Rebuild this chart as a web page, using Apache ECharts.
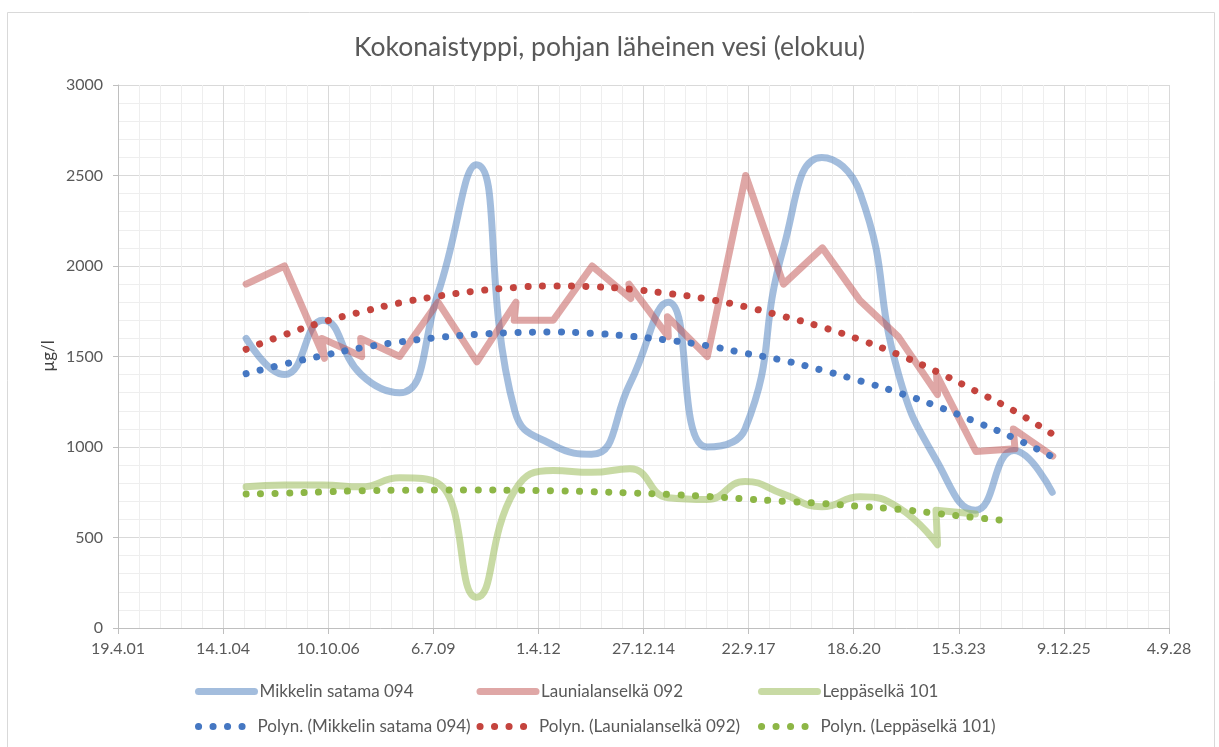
<!DOCTYPE html>
<html>
<head>
<meta charset="utf-8">
<script src="https://cdn.jsdelivr.net/npm/echarts@6/dist/echarts.min.js"></script>
<style>
html,body{margin:0;padding:0;background:#fff;}
#chart{width:1219px;height:747px;}
</style>
</head>
<body>
<div id="chart"></div>
<script>
// ---------- DATA ----------
const titleText = 'Kokonaistyppi, pohjan läheinen vesi (elokuu)';
const yAxisName = 'µg/l';
const xTickLabels = ['19.4.01','14.1.04','10.10.06','6.7.09','1.4.12','27.12.14','22.9.17','18.6.20','15.3.23','9.12.25','4.9.28'];

const mikkelinName = 'Mikkelin satama 094';
const mikkelinDates = ['2004-08-20','2005-08-20','2006-08-20','2007-08-20','2008-08-20','2009-08-20','2010-08-20','2011-08-20','2012-08-20','2013-08-20','2014-08-20','2015-08-20','2016-08-20','2017-08-20','2018-08-20','2019-08-20','2020-08-20','2021-08-20','2022-08-20','2023-08-20','2024-08-20','2025-08-20'];
const mikkelinValues = [1600,1400,1700,1400,1300,1850,2560,1200,1010,960,1350,1800,1000,1100,2100,2600,2400,1400,920,650,980,750];

const launiaName = 'Launialanselkä 092';
const launiaDates = ['2004-08-20','2005-08-20','2006-09-05','2006-08-10','2007-08-25','2007-08-15','2008-08-20','2009-08-20','2010-08-25','2011-09-01','2011-08-15','2012-08-20','2013-08-25','2014-08-28','2014-08-10','2015-08-20','2015-08-12','2016-08-25','2017-08-25','2018-08-20','2019-08-25','2020-08-15','2021-08-15','2022-08-25','2022-08-15','2023-08-25','2024-08-30','2024-08-15','2025-08-25'];
const launiaValues = [1900,2000,1490,1600,1500,1600,1500,1800,1470,1800,1700,1700,2000,1820,1900,1610,1720,1500,2500,1900,2100,1810,1610,1290,1400,975,990,1100,950];

const leppaName = 'Leppäselkä 101';
const leppaDates = ['2004-08-20','2005-08-20','2006-08-20','2007-08-20','2008-08-20','2009-08-20','2010-08-20','2011-08-20','2012-08-20','2013-08-20','2014-08-20','2015-08-20','2016-08-20','2017-08-20','2018-08-20','2019-08-20','2020-08-20','2021-08-20','2022-08-25','2022-08-10','2023-08-20'];
const leppaValues = [780,790,790,780,830,800,170,760,870,860,880,720,710,810,740,670,725,665,460,650,630];

// trend lines (Polyn.)
const trendDates = ['2004-08-20','2005-08-20','2006-08-20','2007-08-20','2008-08-20','2009-08-20','2010-08-20','2011-08-20','2012-08-20','2013-08-20','2014-08-20','2015-08-20','2016-08-20','2017-08-20','2018-08-20','2019-08-20','2020-08-20','2021-08-20','2022-08-20','2023-08-20','2024-08-20','2025-08-20'];
const trendMikkelin = [1405,1458,1505,1548,1580,1605,1622,1632,1635,1628,1612,1590,1560,1518,1478,1425,1365,1300,1225,1140,1050,946];
const trendLaunia = [1540,1620,1690,1746,1796,1833,1862,1881,1890,1886,1872,1848,1818,1775,1722,1663,1592,1510,1415,1310,1200,1072];
const trendLeppaDates = ['2004-08-20','2005-08-20','2006-08-20','2007-08-20','2008-08-20','2009-08-20','2010-08-20','2011-08-20','2012-08-20','2013-08-20','2014-08-20','2015-08-20','2016-08-20','2017-08-20','2018-08-20','2019-08-20','2020-08-20','2021-08-20','2022-08-20','2023-08-20','2024-06-15'];
const trendLeppa = [740,745,752,758,761,762,762,761,758,753,746,738,727,713,700,688,672,656,633,610,593];

// ---------- HELPERS ----------
const EPOCH = Date.UTC(1899, 11, 30);
function serial(s) {
  const p = s.split('-').map(Number);
  return Math.round((Date.UTC(p[0], p[1] - 1, p[2]) - EPOCH) / 86400000);
}
function pairs(dates, vals) { return dates.map((d, i) => [serial(d), vals[i]]); }

const X_MIN = 37000, X_MAX = 47000, X_INT = 1000;
const FONT = 'Lato, "Open Sans", sans-serif';

const C_BLUE = 'rgba(79,129,189,0.52)';
const C_RED = 'rgba(192,80,77,0.5)';
const C_GREEN = 'rgba(155,187,89,0.55)';
const D_BLUE = '#4577c2';
const D_RED = '#c4443e';
const D_GREEN = '#8db646';

function solid(name, data, color, smooth) {
  return { name, type: 'line', data, smooth: smooth ? 0.5 : false, symbol: 'none', showSymbol: false,
    lineStyle: { color, width: 7, cap: 'round', join: 'round' }, itemStyle: { color }, z: 2 };
}
function dotted(name, data, color) {
  return { name, type: 'line', data, smooth: 0.5, symbol: 'none', showSymbol: false,
    lineStyle: { color, width: 7, type: [0.1, 14.4], cap: 'round' }, itemStyle: { color }, z: 3 };
}

const names = [mikkelinName, launiaName, leppaName,
  'Polyn. (' + mikkelinName + ')', 'Polyn. (' + launiaName + ')', 'Polyn. (' + leppaName + ')'];
const legendX = [195, 476.5, 758];
const legendY = [683, 718];

const legends = names.map((n, i) => ({
  data: [n], left: legendX[i % 3], top: legendY[Math.floor(i / 3)], orient: 'horizontal', padding: 0,
  itemWidth: i < 3 ? 56 : 46, itemHeight: 14, itemGap: 0, selectedMode: false,
  textStyle: { fontFamily: FONT, fontSize: 17, color: '#595959', padding: [0, 0, 0, i < 3 ? 0 : 8] },
  itemStyle: { opacity: 0, borderWidth: 0 },
  lineStyle: { width: 7 }
}));

const chart = echarts.init(document.getElementById('chart'), null, { renderer: 'canvas' });
chart.setOption({
  animation: false,
  backgroundColor: '#ffffff',
  title: { text: titleText, left: 'center', top: 29, textStyle: { fontFamily: FONT, fontSize: 26.5, fontWeight: 'normal', color: '#595959' } },
  graphic: [
    { type: 'rect', shape: { x: 7.5, y: 12.5, width: 1207, height: 760 }, style: { fill: 'none', stroke: '#d9d9d9', lineWidth: 1 }, silent: true, z: -10 },
    { type: 'text', x: 49, y: 356, rotation: Math.PI / 2, silent: true,
      style: { text: yAxisName, fontFamily: FONT, fontSize: 17, fill: '#404040', align: 'center', verticalAlign: 'middle' } }
  ],
  legend: legends,
  grid: { left: 118, right: 50, top: 85, bottom: 119, containLabel: false },
  xAxis: {
    type: 'value', min: X_MIN, max: X_MAX, interval: X_INT,
    axisLine: { show: true, onZero: false, lineStyle: { color: '#bfbfbf', width: 1 } },
    axisTick: { show: true, length: 6, lineStyle: { color: '#bfbfbf' } },
    axisLabel: { margin: 13, fontFamily: FONT, fontSize: 16, color: '#595959',
      formatter: v => xTickLabels[Math.round((v - X_MIN) / X_INT)] || '' },
    splitLine: { show: true, lineStyle: { color: '#d9d9d9', width: 1 } },
    minorTick: { show: false, splitNumber: 5 },
    minorSplitLine: { show: true, lineStyle: { color: '#eeeeee', width: 1 } }
  },
  yAxis: {
    type: 'value', min: 0, max: 3000, interval: 500,
    axisLine: { show: true, lineStyle: { color: '#bfbfbf', width: 1 } },
    axisTick: { show: true, length: 5, lineStyle: { color: '#bfbfbf' } },
    axisLabel: { margin: 15, fontFamily: FONT, fontSize: 16, color: '#595959', formatter: v => String(v) },
    splitLine: { show: true, lineStyle: { color: '#d9d9d9', width: 1 } },
    minorTick: { show: false, splitNumber: 5 },
    minorSplitLine: { show: true, lineStyle: { color: '#eeeeee', width: 1 } }
  },
  series: [
    solid(names[0], pairs(mikkelinDates, mikkelinValues), C_BLUE, true),
    solid(names[1], pairs(launiaDates, launiaValues), C_RED, false),
    solid(names[2], pairs(leppaDates, leppaValues), C_GREEN, true),
    dotted(names[3], pairs(trendDates, trendMikkelin), D_BLUE),
    dotted(names[4], pairs(trendDates, trendLaunia), D_RED),
    dotted(names[5], pairs(trendLeppaDates, trendLeppa), D_GREEN)
  ]
});
</script>
</body>
</html>
